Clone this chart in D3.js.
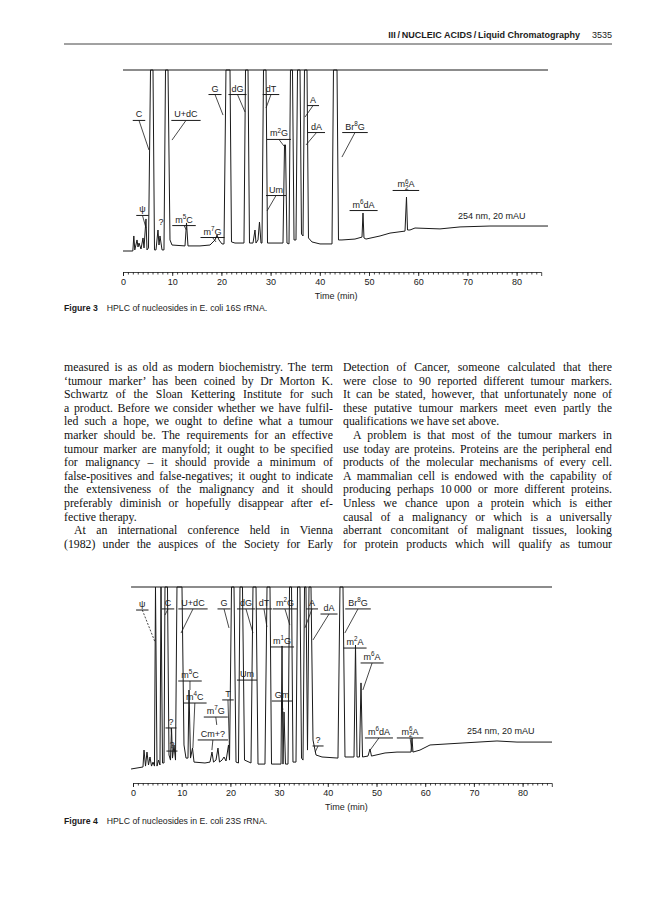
<!DOCTYPE html>
<html>
<head>
<meta charset="utf-8">
<script src="https://cdn.jsdelivr.net/npm/d3@7"></script>
<style>
  body { margin: 0; background: #fff; }
  svg text { font-family: "Liberation Sans", Arial, sans-serif; fill: #1a1a1a; }
  svg text.serif { font-family: "Liberation Serif", "Times New Roman", serif; fill: #111; }
</style>
</head>
<body>
<div class="canvas"></div>
<script>
// ---- data: Figure 3 (16S rRNA) trace, [time (min), signal (% of full scale)]
const fig3Trace = [
  [0, 0], [2.0, 0], [2.2, 8.3], [2.4, 0.6], [2.85, 6.1], [3.05, 2.2], [3.25, 4.4], [3.66, 1.1],
  [4.07, 7.2], [4.27, 1.7], [4.67, 17.7], [4.88, 0.6], [5.18, 1.7], [5.59, 100], [6.1, 100],
  [6.4, 0.6], [6.71, 0.6], [7.11, 11.6], [7.32, 3.3], [7.52, 8.3], [7.93, 0.6], [8.33, 0.6],
  [8.64, 100], [9.15, 100], [9.55, 6.1], [9.96, 3.3], [12.6, 2.8], [12.91, 15.5], [13.21, 2.8],
  [15.65, 2.8], [17.68, 3.3], [18.7, 6.1], [19.11, 8.8], [19.51, 6.1], [20.12, 3.9], [20.53, 3.9],
  [20.93, 100], [21.75, 100], [22.05, 5.0], [22.76, 4.4], [24.59, 4.4], [24.9, 100], [25.41, 100],
  [25.71, 4.4], [26.42, 4.4], [26.83, 11.6], [27.03, 4.4], [27.44, 6.1], [27.74, 16.0], [28.05, 4.4],
  [28.25, 4.4], [28.56, 100], [29.07, 100], [29.37, 4.4], [32.52, 4.4], [32.83, 58.6], [33.03, 58.6],
  [33.33, 4.4], [33.74, 3.9], [34.04, 100], [34.45, 100], [34.76, 6.1], [35.16, 6.1], [35.47, 100],
  [35.98, 100], [36.28, 9.4], [36.59, 8.3], [36.89, 100], [37.4, 100], [37.7, 7.2], [38.41, 5.0],
  [40.04, 3.9], [42.48, 3.9], [42.78, 100], [43.5, 100], [43.8, 6.1], [44.51, 6.1], [47.15, 6.6],
  [48.58, 7.7], [48.78, 21.0], [48.98, 7.2], [49.39, 6.6], [52.24, 8.3], [54.27, 9.9], [57.32, 11.0],
  [57.62, 29.8], [57.83, 11.6], [58.33, 11.6], [59.35, 12.7], [64.43, 12.2], [68.5, 13.3],
  [74.59, 13.8], [80.69, 13.8], [86.38, 13.8]
];
// peak labels: [text, time, signal (baseline of text), leader end time, leader end signal]
const fig3Labels = [
  ['C', 3.25, 73.8, 5.28, 55.8],
  ['U+dC', 12.8, 73.8, 9.96, 61.3],
  ['G', 18.7, 88.1, 20.33, 75.1],
  ['dG', 23.27, 88.1, 24.8, 76.8],
  ['dT', 30.08, 88.1, 29.07, 79.0],
  ['A', 38.62, 82.0, 36.99, 74.0],
  ['m^2G', 31.7, 63.3, 32.72, 58.0],
  ['dA', 39.33, 67.1, 37.2, 58.6],
  ['Um', 31.1, 32.3, 29.27, 22.1],
  ['\u03c8', 3.96, 21.3, 4.67, 12.7],
  ['m^5C', 12.4, 15.7, 12.9, 11.6],
  ['m^7G', 18.2, 9.1, 18.9, 5.0],
  ['Br^8G', 47.15, 67.1, 44.5, 51.9],
  ['m^6dA', 48.9, 24.0, null, null],
  ['m^6_2A', 57.5, 35.1, null, null]
];
const fig3Plain = [['?', 7.72, 14.1]];
const fig3Note = ['254 nm, 20 mAU', 68.1, 17.7];

// ---- data: Figure 4 (23S rRNA) trace
const fig4Trace = [
  [-0.4, 0], [2.05, 1.1], [2.26, 10.4], [2.57, 1.6], [2.87, 9.3], [3.18, 2.2], [3.49, 6.6], [3.8, 1.6],
  [4.11, 3.8], [4.41, 1.6], [4.62, 100], [4.93, 1.6], [5.24, 4.9], [5.54, 2.2], [5.75, 100], [6.06, 3.3],
  [6.37, 3.3], [6.57, 100], [7.08, 100], [7.39, 7.7], [7.7, 4.9], [7.91, 22.5], [8.11, 6.0], [8.42, 13.2],
  [8.73, 4.9], [9.03, 100], [10.06, 100], [10.47, 13.2], [10.88, 6.0], [11.29, 6.0], [11.5, 43.4],
  [11.81, 6.0], [12.22, 11.5], [12.53, 3.8], [14.78, 3.3], [15.81, 3.8], [16.22, 9.3], [16.53, 3.8],
  [17.04, 4.9], [17.45, 11.5], [17.76, 3.8], [18.28, 4.9], [18.69, 6.6], [19.1, 4.4], [19.61, 13.2],
  [19.82, 4.9], [20.23, 100], [20.74, 100], [21.15, 3.8], [21.66, 3.3], [21.97, 100], [22.48, 100],
  [22.9, 4.9], [24.23, 3.3], [24.64, 100], [25.26, 100], [25.67, 2.7], [27.1, 2.7], [27.52, 100],
  [28.13, 100], [28.44, 2.7], [29.36, 2.7], [30.39, 2.7], [30.6, 67.6], [30.8, 2.7], [31.01, 31.3],
  [31.31, 2.7], [31.83, 2.7], [32.14, 100], [32.55, 100], [32.85, 3.8], [33.47, 3.8], [33.78, 100],
  [34.29, 100], [34.6, 6.0], [34.91, 4.9], [35.22, 100], [35.52, 100], [35.83, 10.4], [36.14, 100],
  [36.55, 100], [36.96, 15.9], [37.58, 7.7], [38.81, 6.6], [42.09, 6.0], [42.5, 100], [43.12, 100],
  [43.53, 6.6], [45.38, 6.6], [45.69, 68.1], [46.0, 6.6], [46.51, 6.6], [46.82, 47.3], [47.13, 6.6],
  [48.25, 7.1], [48.67, 11.0], [48.97, 7.1], [51.75, 8.8], [54.21, 9.3], [57.08, 9.3], [57.29, 17.0],
  [57.49, 9.3], [58.93, 10.4], [60.99, 13.2], [67.76, 14.3], [74.74, 15.4], [78.85, 14.8], [86.04, 14.8]
];
const fig4Labels = [
  ['\u03c8', 1.91, 89.0, 4.52, 69.8],
  ['C', 7.19, 89.6, 6.57, 84.6],
  ['U+dC', 12.32, 89.6, 9.86, 74.7],
  ['G', 18.69, 89.6, 19.71, 77.5],
  ['dG', 23.2, 89.6, 24.64, 74.7],
  ['dT', 26.9, 89.6, 27.5, 78.0],
  ['m^2G', 31.2, 89.6, 32.2, 79.1],
  ['A', 36.76, 89.6, 35.3, 77.5],
  ['dA', 40.25, 86.8, 36.96, 70.9],
  ['Br^8G', 46.2, 89.6, 43.5, 74.7],
  ['m^1G', 30.6, 68.7, null, null],
  ['m^2A', 45.6, 68.1, null, null],
  ['m^6A', 49.1, 59.9, 47.2, 43.4],
  ['m^5C', 11.7, 50.0, 11.7, 43.4],
  ['m^4C', 12.7, 37.9, 12.3, 11.5],
  ['Um', 23.4, 50.5, null, null],
  ['Gm', 30.6, 39.0, 30.8, 31.3],
  ['T', 19.5, 39.6, 19.8, 11.5],
  ['m^7G', 17.0, 30.2, 17.2, 24.2],
  ['Cm+?', 16.4, 17.6, 16.2, 10.4],
  ['?', 7.8, 24.2, 7.9, 19.8],
  ['?', 8.0, 11.5, null, null],
  ['?', 38.0, 14.3, 37.4, 9.3],
  ['m^6dA', 50.5, 18.7, 48.7, 10.4],
  ['m^6_2A', 56.9, 18.7, 57.3, 9.3]
];
const fig4Dashed = ['\u03c8', 'Gm'];
const fig4Note = ['254 nm, 20 mAU', 68.6, 19.2];

const majorTicks = [0, 10, 20, 30, 40, 50, 60, 70, 80];

// ---- page text
const headerTitle = 'III\u2009/\u2009NUCLEIC ACIDS\u2009/\u2009Liquid Chromatography';
const headerPage = '3535';
const caption3 = ['Figure 3', 'HPLC of nucleosides in E. coli 16S rRNA.'];
const caption4 = ['Figure 4', 'HPLC of nucleosides in E. coli 23S rRNA.'];
// [line, justified?, indented?]
const leftColumn = [
  ['measured is as old as modern biochemistry. The term', 1, 0],
  ['\u2018tumour marker\u2019 has been coined by Dr Morton K.', 1, 0],
  ['Schwartz of the Sloan Kettering Institute for such', 1, 0],
  ['a product. Before we consider whether we have fulfil-', 1, 0],
  ['led such a hope, we ought to define what a tumour', 1, 0],
  ['marker should be. The requirements for an effective', 1, 0],
  ['tumour marker are manyfold; it ought to be specified', 1, 0],
  ['for malignancy \u2013 it should provide a minimum of', 1, 0],
  ['false-positives and false-negatives; it ought to indicate', 1, 0],
  ['the extensiveness of the malignancy and it should', 1, 0],
  ['preferably diminish or hopefully disappear after ef-', 1, 0],
  ['fective therapy.', 0, 0],
  ['At an international conference held in Vienna', 1, 1],
  ['(1982) under the auspices of the Society for Early', 1, 0]
];
const rightColumn = [
  ['Detection of Cancer, someone calculated that there', 1, 0],
  ['were close to 90 reported different tumour markers.', 1, 0],
  ['It can be stated, however, that unfortunately none of', 1, 0],
  ['these putative tumour markers meet even partly the', 1, 0],
  ['qualifications we have set above.', 0, 0],
  ['A problem is that most of the tumour markers in', 1, 1],
  ['use today are proteins. Proteins are the peripheral end', 1, 0],
  ['products of the molecular mechanisms of every cell.', 1, 0],
  ['A mammalian cell is endowed with the capability of', 1, 0],
  ['producing perhaps 10\u2009000 or more different proteins.', 1, 0],
  ['Unless we chance upon a protein which is either', 1, 0],
  ['causal of a malignancy or which is a universally', 1, 0],
  ['aberrant concomitant of malignant tissues, looking', 1, 0],
  ['for protein products which will qualify as tumour', 1, 0]
];

// ---- setup
const page = { width: 668, height: 900 };
const margin = { left: 64, right: 612 };
const ink = '#1a1a1a';

const svg = d3.select('.canvas')
  .append('svg')
  .attr('width', page.width)
  .attr('height', page.height);

svg.append('rect').attr('width', page.width).attr('height', page.height).attr('fill', '#fff');

// header
svg.append('text')
  .attr('x', 580).attr('y', 38)
  .attr('text-anchor', 'end')
  .attr('font-size', 9).attr('font-weight', 'bold')
  .text(headerTitle);
svg.append('text')
  .attr('x', margin.right).attr('y', 38)
  .attr('text-anchor', 'end')
  .attr('font-size', 9)
  .text(headerPage);
svg.append('line')
  .attr('x1', margin.left).attr('x2', margin.right).attr('y1', 44).attr('y2', 44)
  .attr('stroke', '#444').attr('stroke-width', 1);

// label text with ^sup / _sub single characters
const richText = (txt, str, fs) => {
  let off = 0;
  for (let i = 0; i < str.length; i++) {
    let c = str[i], target = 0, small = false, dx = 0;
    if (c === '^') { c = str[++i]; target = -fs * 0.42; small = true; }
    else if (c === '_') {
      c = str[++i]; target = fs * 0.28; small = true;
      if (str[i - 3] === '^') dx = -fs * 0.7 * 0.56;
    }
    const sp = txt.append('tspan').attr('dy', target - off).text(c);
    if (small) sp.attr('font-size', fs * 0.7);
    if (dx) sp.attr('dx', dx);
    off = target;
  }
};

const drawChromatogram = (cfg) => {
  const x = d3.scaleLinear().domain(cfg.xDomain).range(cfg.xRange);
  const y = d3.scaleLinear().domain([0, 100]).range(cfg.yRange);
  const g = svg.append('g');
  const fs = 9;

  // top frame line (full scale)
  g.append('line')
    .attr('x1', x(cfg.trace[0][0])).attr('x2', x(cfg.trace[cfg.trace.length - 1][0]))
    .attr('y1', y(100)).attr('y2', y(100))
    .attr('stroke', ink).attr('stroke-width', 1.2);

  const line = d3.line().x(d => x(d[0])).y(d => y(d[1]));
  g.append('path')
    .datum(cfg.trace)
    .attr('d', line)
    .attr('fill', 'none')
    .attr('stroke', ink)
    .attr('stroke-width', 1)
    .attr('stroke-linejoin', 'round');

  // peak labels
  cfg.labels.forEach(([name, t, s, et, es]) => {
    const cx = x(t), by = y(s);
    const txt = g.append('text')
      .attr('x', cx).attr('y', by)
      .attr('text-anchor', 'middle')
      .attr('font-size', fs);
    richText(txt, name, fs);
    const w = txt.node().getComputedTextLength();
    g.append('line')
      .attr('x1', cx - w / 2 - 3).attr('x2', cx + w / 2 + 3)
      .attr('y1', by + 3).attr('y2', by + 3)
      .attr('stroke', ink).attr('stroke-width', 1);
    if (et !== null) {
      g.append('line')
        .attr('x1', cx).attr('y1', by + 3)
        .attr('x2', x(et)).attr('y2', y(es))
        .attr('stroke', ink).attr('stroke-width', 0.8)
        .attr('stroke-dasharray', (cfg.dashed || []).includes(name) ? '2,1.5' : null);
    }
  });
  (cfg.plain || []).forEach(([name, t, s]) => {
    g.append('text').attr('x', x(t)).attr('y', y(s))
      .attr('text-anchor', 'middle').attr('font-size', fs).text(name);
  });
  g.append('text')
    .attr('x', x(cfg.note[1])).attr('y', y(cfg.note[2]))
    .attr('font-size', fs)
    .text(cfg.note[0]);

  // time axis
  const axisG = g.append('g').attr('transform', `translate(0, ${cfg.axisY})`);
  axisG.call(d3.axisBottom(x.copy().domain([0, cfg.axisMax]).range([x(0), x(cfg.axisMax)]))
    .tickValues(majorTicks).tickSize(4).tickSizeOuter(4).tickPadding(3));
  axisG.append('g')
    .call(d3.axisBottom(x).tickValues(d3.range(0, cfg.axisMax)).tickSize(2.5).tickFormat(''))
    .select('.domain').remove();
  axisG.selectAll('path, line').attr('stroke', ink).attr('stroke-width', 0.8);
  axisG.selectAll('text')
    .attr('font-size', 9).attr('fill', ink)
    .attr('font-family', '"Liberation Sans", Arial, sans-serif');
  axisG.append('text')
    .attr('x', (x(0) + x(cfg.axisMax)) / 2 + 4).attr('y', 27)
    .attr('text-anchor', 'middle').attr('font-size', 9)
    .text('Time (min)');

  // caption
  const cap = svg.append('text').attr('x', margin.left).attr('y', cfg.captionY).attr('font-size', 8.7);
  cap.append('tspan').attr('font-weight', 'bold').text(cfg.caption[0]);
  cap.append('tspan').attr('dx', 9).text(cfg.caption[1]);
};

drawChromatogram({
  trace: fig3Trace, labels: fig3Labels, plain: fig3Plain, note: fig3Note,
  xDomain: [0, 87], xRange: [123, 123 + 87 * 4.92], yRange: [251, 70],
  axisMax: 85, axisY: 272, captionY: 311, caption: caption3
});

drawChromatogram({
  trace: fig4Trace, labels: fig4Labels, dashed: fig4Dashed, note: fig4Note,
  xDomain: [0, 86], xRange: [133, 133 + 86 * 4.87], yRange: [769, 587],
  axisMax: 86, axisY: 783, captionY: 824, caption: caption4
});

// body text, two justified columns (extra room goes into the word gaps)
const drawColumn = (lines, x0, width) => {
  const top = 371, lead = 13.6, indent = 10, fs = 11.8;
  lines.forEach(([str, justify, ind], i) => {
    const xs = x0 + (ind ? indent : 0);
    const w = width - (ind ? indent : 0);
    const t = svg.append('text')
      .attr('class', 'serif')
      .attr('x', xs)
      .attr('y', top + i * lead)
      .attr('font-size', fs)
      .text(str);
    const natural = t.node().getComputedTextLength();
    const gaps = (str.match(/ /g) || []).length;
    if (natural > w) {
      t.attr('transform', `translate(${xs},0) scale(${w / natural},1) translate(${-xs},0)`);
    } else if (justify && gaps) {
      t.style('word-spacing', `${(w - natural) / gaps}px`);
    }
  });
};
drawColumn(leftColumn, margin.left, 269);
drawColumn(rightColumn, margin.right - 269, 269);
</script>
</body>
</html>
